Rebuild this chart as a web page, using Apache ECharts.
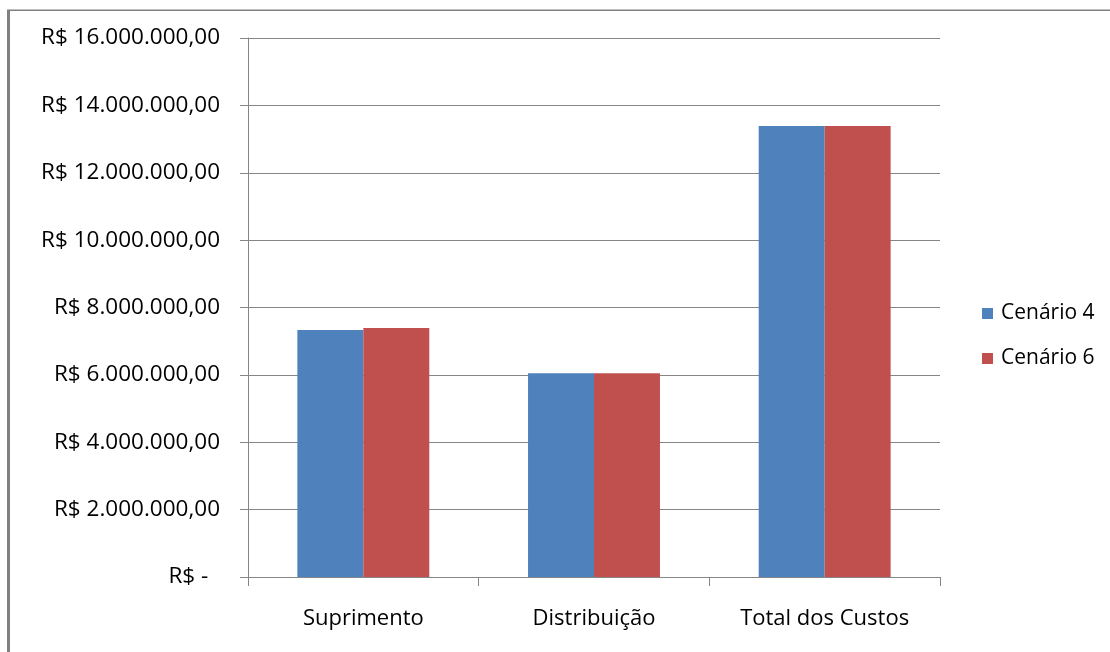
<!DOCTYPE html>
<html>
<head>
<meta charset="utf-8">
<script src="https://cdn.jsdelivr.net/npm/echarts@6/dist/echarts.min.js"></script>
<style>
html,body{margin:0;padding:0;background:#fff;}
#chart{width:1110px;height:652px;}
</style>
</head>
<body>
<div id="chart"></div>
<script>
var categories = ['Suprimento', 'Distribuição', 'Total dos Custos'];
var seriesNames = ['Cenário 4', 'Cenário 6'];
var cenario4 = [7330000, 6050000, 13390000];
var cenario6 = [7390000, 6050000, 13390000];
var yMin = 0, yMax = 16000000, yInterval = 2000000;

function fmt(v) {
  if (v === 0) return 'R$ -  ';
  var s = Math.round(v).toString().replace(/\B(?=(\d{3})+(?!\d))/g, '.');
  return 'R$ ' + s + ',00';
}

var chart = echarts.init(document.getElementById('chart'), null, {renderer: 'canvas'});
var font = 'Open Sans';
chart.setOption({
  animation: false,
  backgroundColor: '#fff',
  textStyle: {fontFamily: font, color: '#000'},
  graphic: [
    {type: 'rect', shape: {x: 7, y: 10, width: 3, height: 642}, style: {fill: '#808080'}},
    {type: 'rect', shape: {x: 7, y: 9.5, width: 1103, height: 1.5}, style: {fill: '#808080'}}
  ],
  grid: {left: 248, right: 170, top: 38, bottom: 75, containLabel: false},
  legend: {
    orient: 'vertical',
    left: 977,
    top: 298,
    itemWidth: 11,
    itemHeight: 11,
    itemGap: 24,
    icon: 'rect',
    data: seriesNames,
    textStyle: {fontFamily: font, fontSize: 21, color: '#000', lineHeight: 21, padding: [0, 0, 0, 3]}
  },
  xAxis: {
    type: 'category',
    data: categories,
    axisLine: {show: true, lineStyle: {color: '#868686', width: 1}},
    axisTick: {show: true, length: 9, lineStyle: {color: '#868686'}},
    axisLabel: {fontFamily: font, fontSize: 22, color: '#000', margin: 31}
  },
  yAxis: {
    type: 'value',
    min: yMin,
    max: yMax,
    interval: yInterval,
    axisLine: {show: true, lineStyle: {color: '#868686', width: 1}},
    axisTick: {show: true, length: 8, lineStyle: {color: '#868686'}},
    splitLine: {show: true, lineStyle: {color: '#868686', width: 1}},
    axisLabel: {fontFamily: font, fontSize: 22.5, color: '#000', margin: 28, formatter: fmt}
  },
  series: [
    {name: seriesNames[0], type: 'bar', data: cenario4, itemStyle: {color: '#4F81BD'}, barGap: '0%', barCategoryGap: '42.8%'},
    {name: seriesNames[1], type: 'bar', data: cenario6, itemStyle: {color: '#C0504D'}, barGap: '0%', barCategoryGap: '42.8%'}
  ]
});
</script>
</body>
</html>
